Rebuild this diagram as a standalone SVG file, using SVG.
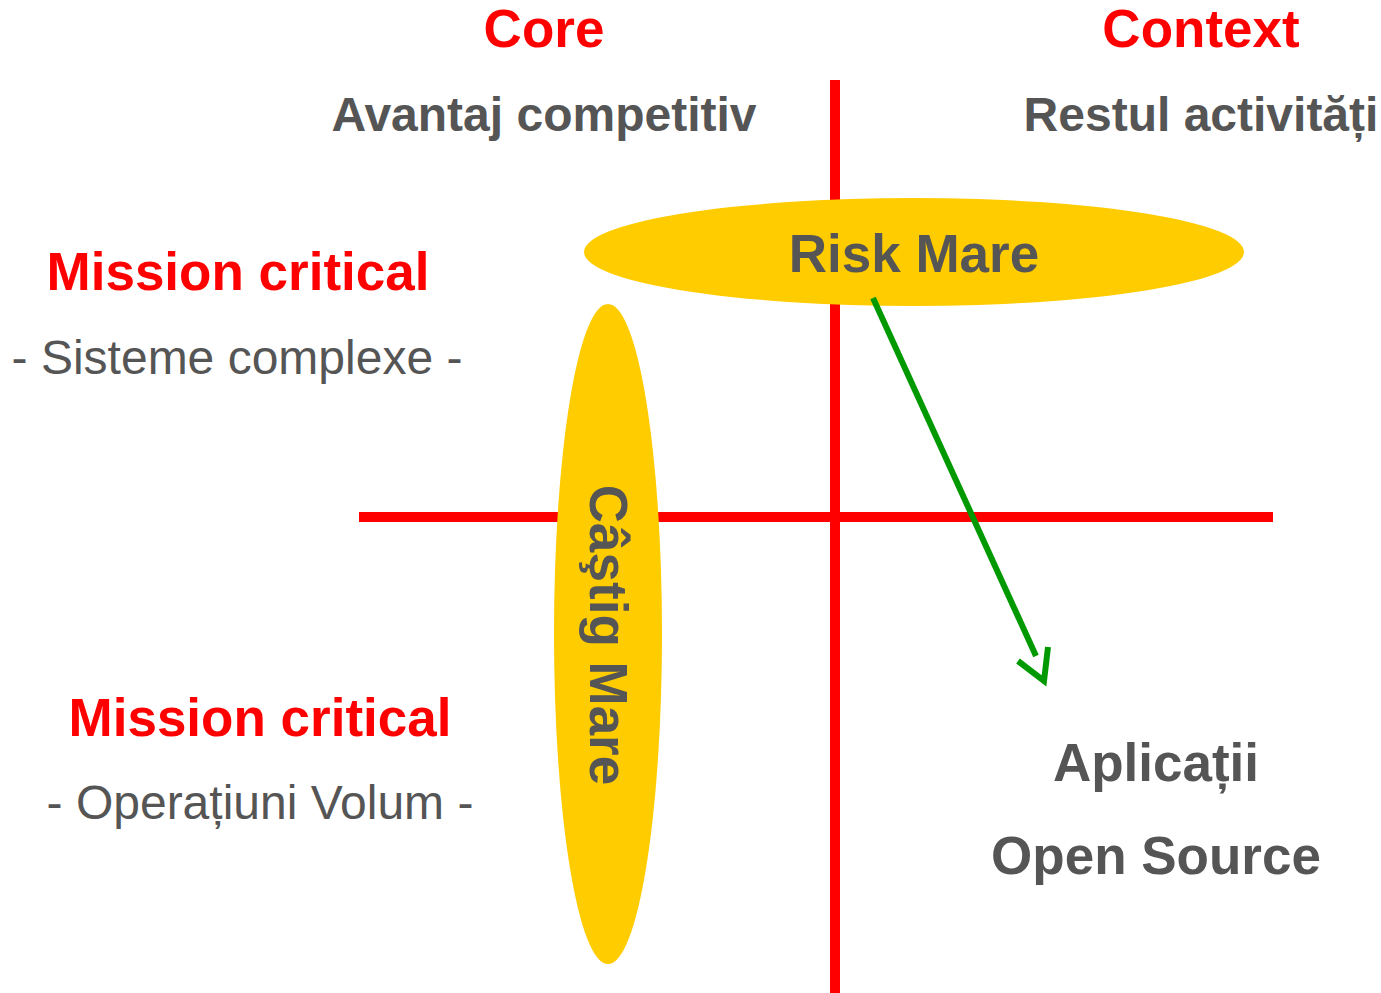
<svg xmlns="http://www.w3.org/2000/svg" width="1381" height="993" viewBox="0 0 1381 993">
<style>
.t{font-family:"Liberation Sans",Arial,sans-serif;text-anchor:middle}
.red{fill:#FF0000;font-weight:bold;font-size:53px}
.gb{fill:#555555;font-weight:bold}
.gr{fill:#555555;font-size:48px}
.axis{stroke:#FF0000;stroke-width:10;fill:none}
.blob{fill:#FFCC00}
.arr{stroke:#009900;stroke-width:6;fill:none}
</style>
<rect width="1381" height="993" fill="#FFFFFF"/>
<g id="axes">
<line class="axis" x1="835" y1="80" x2="835" y2="993"/>
<line class="axis" x1="359" y1="517" x2="1273" y2="517"/>
</g>
<g id="headers">
<text class="t red" x="544" y="47">Core</text>
<text class="t red" x="1201" y="47">Context</text>
<text class="t gb" x="544" y="131" font-size="48">Avantaj competitiv</text>
<text class="t gb" x="1201" y="131" font-size="48">Restul activități</text>
</g>
<g id="row1">
<text class="t red" x="238" y="290">Mission critical</text>
<text class="t gr" x="237" y="374">- Sisteme complexe -</text>
</g>
<g id="row2">
<text class="t red" x="260" y="736">Mission critical</text>
<text class="t gr" x="260" y="819">- Operațiuni Volum -</text>
</g>
<g id="risk-mare">
<ellipse class="blob" cx="914" cy="252" rx="330" ry="54"/>
<text class="t gb" x="914" y="272" font-size="53">Risk Mare</text>
</g>
<g id="castig-mare">
<ellipse class="blob" cx="608" cy="634" rx="54" ry="330"/>
<text class="t gb" font-size="53" transform="translate(590,635) rotate(90)">Câştig Mare</text>
</g>
<g id="open-source">
<text class="t gb" x="1156" y="781" font-size="53">Aplicații</text>
<text class="t gb" x="1156" y="874" font-size="53">Open Source</text>
</g>
<g id="connectors">
<line class="arr" x1="873" y1="298" x2="1036" y2="656"/>
<polyline class="arr" points="1018,661 1044,681 1048,647"/>
</g>
</svg>
